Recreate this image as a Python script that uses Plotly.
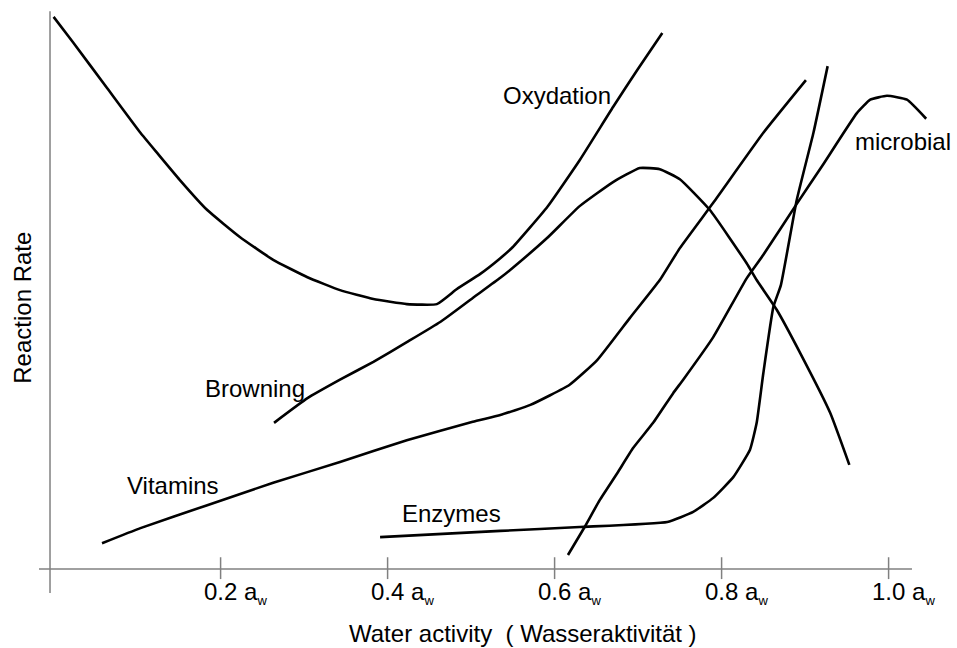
import plotly.graph_objects as go

# ---- data (water activity a_w, relative reaction rate) ----
oxidation_x = [0.0, 0.023, 0.064, 0.104, 0.124, 0.151, 0.184, 0.223, 0.263, 0.304, 0.343, 0.383,
               0.423, 0.459, 0.483, 0.511, 0.535, 0.550, 0.591, 0.630, 0.670, 0.699, 0.729]
oxidation_y = [98.6, 94.1, 85.9, 77.9, 74.3, 69.5, 64.1, 59.3, 55.2, 52.1, 49.8, 48.2,
               47.3, 47.3, 50.0, 52.7, 55.5, 57.5, 64.6, 73.0, 82.5, 89.1, 95.7]

browning_x = [0.264, 0.304, 0.343, 0.383, 0.423, 0.463, 0.502, 0.535, 0.550, 0.591, 0.630, 0.670,
              0.702, 0.726, 0.750, 0.786, 0.830, 0.842, 0.866, 0.894, 0.930, 0.953]
browning_y = [26.1, 30.5, 33.8, 37.0, 40.5, 44.1, 48.4, 52.0, 53.8, 59.1, 64.8, 69.1,
              71.6, 71.4, 69.6, 64.1, 54.6, 51.6, 46.3, 38.6, 27.9, 18.6]

vitamins_x = [0.058, 0.104, 0.184, 0.263, 0.343, 0.423, 0.502, 0.535, 0.571, 0.618, 0.651,
              0.690, 0.726, 0.750, 0.790, 0.850, 0.901]
vitamins_y = [4.6, 7.3, 11.4, 15.4, 19.1, 23.0, 26.3, 27.5, 29.3, 32.9, 37.3,
              44.8, 51.6, 57.3, 65.4, 77.9, 87.3]

enzymes_x = [0.391, 0.535, 0.630, 0.735, 0.766, 0.790, 0.814, 0.834, 0.842, 0.850, 0.862,
             0.871, 0.890, 0.910, 0.927]
enzymes_y = [5.7, 6.8, 7.5, 8.4, 10.2, 12.7, 16.4, 21.3, 26.1, 35.0, 46.8,
             50.7, 65.9, 77.9, 89.8]

microbial_x = [0.616, 0.636, 0.654, 0.675, 0.694, 0.718, 0.742, 0.754, 0.790, 0.830, 0.850,
               0.890, 0.921, 0.962, 0.978, 0.998, 1.022, 1.045]
microbial_y = [2.5, 7.5, 12.3, 17.1, 21.6, 26.1, 31.4, 33.8, 41.4, 51.9, 56.1,
               65.2, 72.1, 81.4, 83.8, 84.5, 83.8, 80.4]

curve_labels = ["Oxydation", "Browning", "Vitamins", "Enzymes", "microbial"]
label_x = [0.603, 0.241, 0.143, 0.477, 1.0775]
label_y = [84.5, 32.3, 15.0, 9.9, 76.3]
label_anchor = ["center", "center", "center", "center", "right"]

tick_vals = [0.2, 0.4, 0.6, 0.8, 1.0]
tick_text = ["0.2", "0.4", "0.6", "0.8", "1.0"]

x_title = "Water activity\u00a0\u00a0( Wasseraktivität )"
y_title = "Reaction Rate"

FONT = "Liberation Sans, Arial, sans-serif"
AX = "#808080"

fig = go.Figure()
series = [(oxidation_x, oxidation_y), (browning_x, browning_y), (vitamins_x, vitamins_y),
          (enzymes_x, enzymes_y), (microbial_x, microbial_y)]
for name, (xs, ys) in zip(curve_labels, series):
    fig.add_trace(go.Scatter(x=xs, y=ys, mode="lines", name=name,
                             line=dict(color="black", width=2.6, shape="spline", smoothing=0.4),
                             showlegend=False, hoverinfo="skip"))

# axes drawn as crossing lines
fig.add_shape(type="line", x0=-0.0043, x1=-0.0043, y0=-4.3, y1=99.6,
              line=dict(color=AX, width=1.5), layer="below")
fig.add_shape(type="line", x0=-0.0175, x1=1.028, y0=0, y1=0,
              line=dict(color=AX, width=1.5), layer="below")
for tv, tt in zip(tick_vals, tick_text):
    fig.add_shape(type="line", x0=tv, x1=tv, y0=-1.8, y1=2.1,
                  line=dict(color=AX, width=1.5), layer="below")
    fig.add_annotation(x=tv, y=-4.3, text=tt + " a<sub><span style='font-size:13px'>w</span></sub>",
                       showarrow=False, xanchor="left", yanchor="middle", xshift=-19,
                       font=dict(family=FONT, size=24, color="black"))

for t, lx, ly, anc in zip(curve_labels, label_x, label_y, label_anchor):
    fig.add_annotation(x=lx, y=ly, text=t, showarrow=False, xanchor=anc, yanchor="middle",
                       font=dict(family=FONT, size=24, color="black"))

fig.add_annotation(x=0.5622, y=-11.6, text=x_title, showarrow=False,
                   xanchor="center", yanchor="middle",
                   font=dict(family=FONT, size=24, color="black"))
fig.add_annotation(x=-0.0382, y=46.6, text=y_title, showarrow=False, textangle=-90,
                   xanchor="center", yanchor="middle",
                   font=dict(family=FONT, size=24, color="black"))

fig.update_layout(
    width=957, height=648,
    margin=dict(l=0, r=0, t=0, b=0),
    paper_bgcolor="white", plot_bgcolor="white",
    xaxis=dict(range=[-0.06419, 1.08192], visible=False, fixedrange=True),
    yaxis=dict(range=[-14.107, 101.607], visible=False, fixedrange=True),
    showlegend=False,
)

fig.write_html("out.html", config={"displayModeBar": False, "staticPlot": False},
               post_script="document.body.style.margin='0';document.body.style.padding='0';"
                           "document.body.style.overflow='hidden';")
